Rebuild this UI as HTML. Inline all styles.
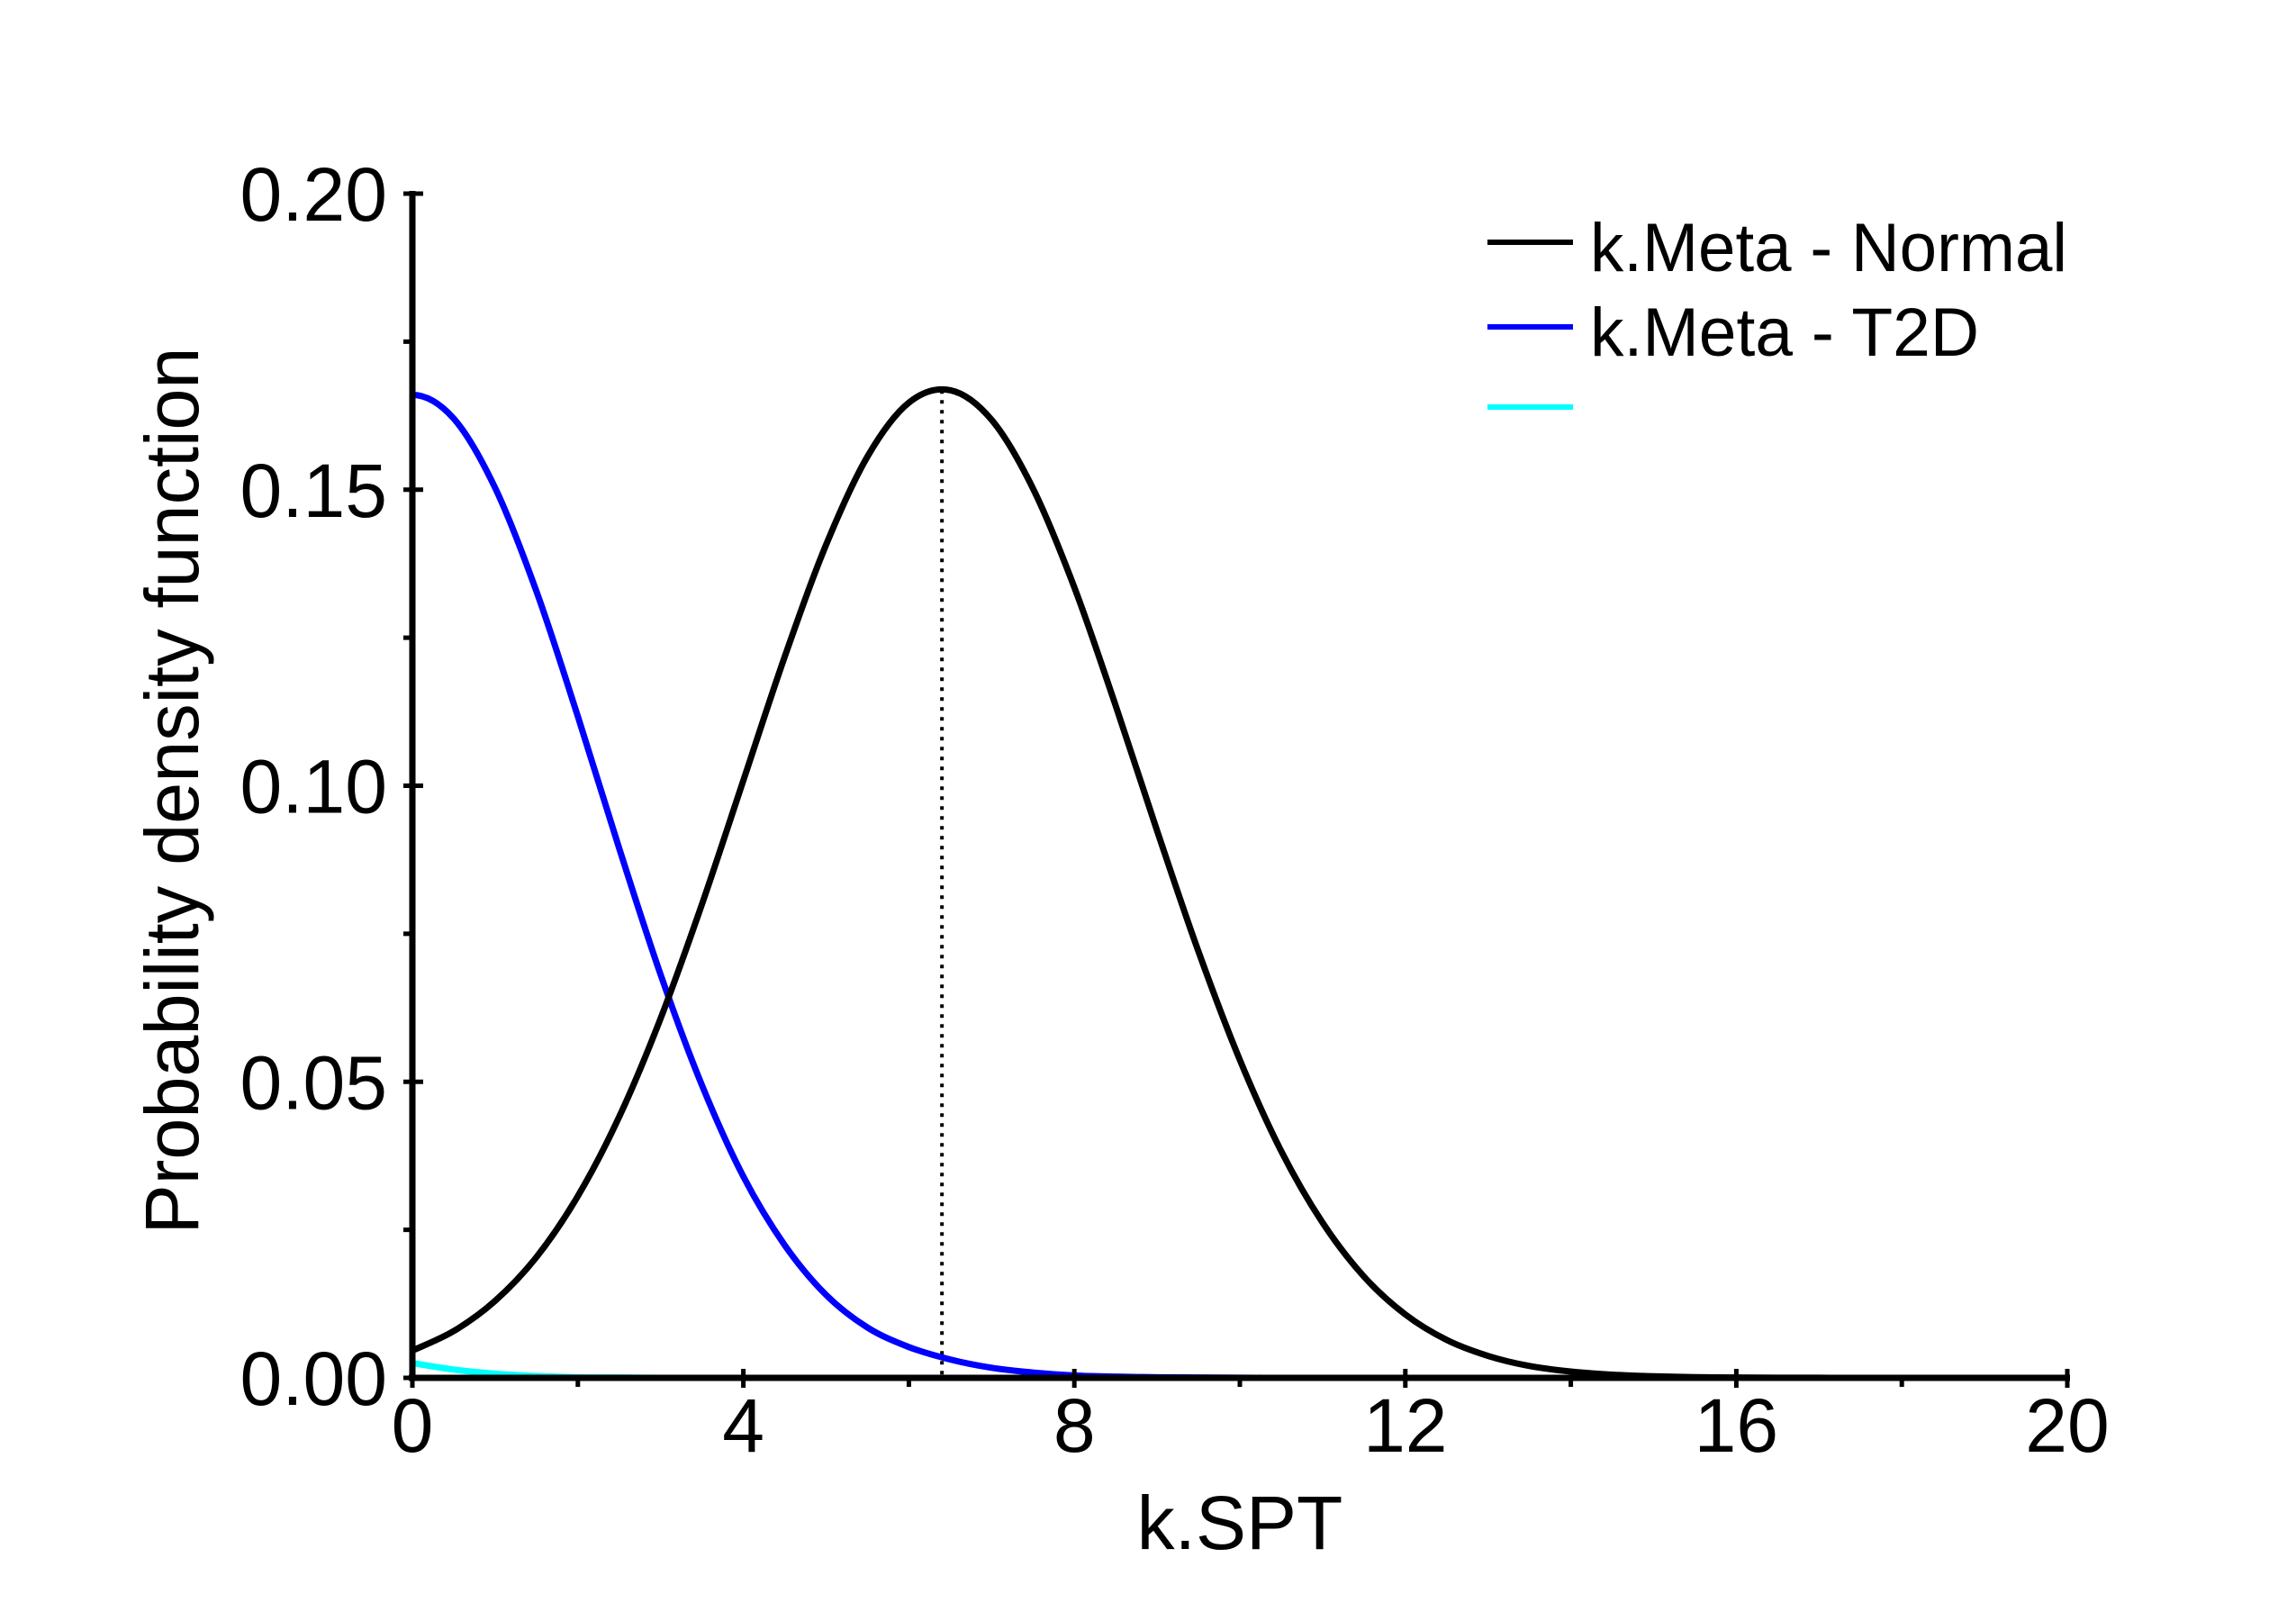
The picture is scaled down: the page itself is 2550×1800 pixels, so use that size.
<!DOCTYPE html>
<html><head><meta charset="utf-8"><style>
html,body{margin:0;padding:0;background:#fff;}
svg{display:block;font-family:"Liberation Sans",Arial,sans-serif;}
</style></head><body>
<svg id="chart" width="2550" height="1800" viewBox="0 0 2550 1800" xmlns="http://www.w3.org/2000/svg">
<rect width="2550" height="1800" fill="#fff"/>
<g id="series"></g>
<g id="axes"></g>
<text x="1377" y="1720" font-size="84" text-anchor="middle">k.SPT</text>
<text transform="translate(220,878) rotate(-90)" font-size="84" text-anchor="middle" textLength="985" lengthAdjust="spacingAndGlyphs">Probability density function</text>
<g>
<line x1="1652" y1="269" x2="1747" y2="269" stroke="#000" stroke-width="6"/>
<text x="1766" y="301" font-size="76" textLength="530" lengthAdjust="spacingAndGlyphs">k.Meta - Normal</text>
<line x1="1652" y1="363" x2="1747" y2="363" stroke="#0000ff" stroke-width="6"/>
<text x="1766" y="395" font-size="76" textLength="432" lengthAdjust="spacingAndGlyphs">k.Meta - T2D</text>
<line x1="1652" y1="452" x2="1747" y2="452" stroke="#00ffff" stroke-width="6"/>
</g>
</svg>
<script>
const xValues = [0,0.5,1,1.5,2,2.5,3,3.5,4,4.5,5,5.5,6,6.5,7,7.5,8,8.5,9,9.5,10,10.5,11,11.5,12,12.5,13,13.5,14,14.5,15,15.5,16,16.5,17,17.5,18,18.5,19,19.5,20];
const normalValues = [0.0046,0.0079,0.0130,0.0204,0.0307,0.0441,0.0607,0.0800,0.1009,0.1218,0.1407,0.1556,0.1647,0.1668,0.1618,0.1502,0.1335,0.1135,0.0924,0.0720,0.0537,0.0383,0.0262,0.0171,0.0107,0.0064,0.0037,0.0020,0.00106,0.00053,0.00026,0.00012,0.00005,0.00002,0.00001,0,0,0,0,0,0];
const t2dValues = [0.166,0.1620,0.1503,0.1328,0.1117,0.0894,0.0681,0.0494,0.0340,0.0224,0.0140,0.0085,0.0052,0.0031,0.0017,0.0009,0.0004,0.0002,0.0001,0.00005,0.00002,0,0,0,0,0,0,0,0,0,0,0,0,0,0,0,0,0,0,0,0];
const cyanValues = [0.0025,0.0014,0.0007,0.0003,0.0001,0.00005,0,0,0,0,0,0,0,0,0,0,0,0,0,0,0,0,0,0,0,0,0,0,0,0,0,0,0,0,0,0,0,0,0,0,0];
const xTicks = [0,4,8,12,16,20];
const xTickLabels = ["0","4","8","12","16","20"];
const xMinorTicks = [2,6,10,14,18];
const yTicks = [0,0.05,0.10,0.15,0.20];
const yTickLabels = ["0.00","0.05","0.10","0.15","0.20"];
const yMinorTicks = [0.025,0.075,0.125,0.175];
const peakX = 6.4;
const peakY = 0.1668;

const NS = "http://www.w3.org/2000/svg";
const X0 = 458, X1 = 2296, Y0 = 1530, Y1 = 215;
function sx(v){ return X0 + (v - 0) / (20 - 0) * (X1 - X0); }
function sy(v){ return Y0 - (v - 0) / (0.2 - 0) * (Y0 - Y1); }
function mk(tag, attrs, parent){
  const e = document.createElementNS(NS, tag);
  for (const k in attrs) e.setAttribute(k, attrs[k]);
  parent.appendChild(e);
  return e;
}
function smoothPath(xs, ys, flatStart){
  const p = xs.map((x,i)=>[sx(x), sy(ys[i])]);
  let d = "M" + p[0][0].toFixed(2) + "," + p[0][1].toFixed(2);
  for (let i=0;i<p.length-1;i++){
    let p0 = p[i-1]||p[i];
    if (i===0 && flatStart) p0 = [2*p[0][0]-p[1][0], p[1][1]];
    const p1=p[i], p2=p[i+1], p3=p[i+2]||p[i+1];
    const c1x = p1[0]+(p2[0]-p0[0])/6, c1y = p1[1]+(p2[1]-p0[1])/6;
    const c2x = p2[0]-(p3[0]-p1[0])/6, c2y = p2[1]-(p3[1]-p1[1])/6;
    d += " C"+c1x.toFixed(2)+","+Math.min(Y0,c1y).toFixed(2)+" "+c2x.toFixed(2)+","+Math.min(Y0,c2y).toFixed(2)+" "+p2[0].toFixed(2)+","+p2[1].toFixed(2);
  }
  return d;
}
const series = document.getElementById("series");
const axes = document.getElementById("axes");

const dot = mk("line", {x1:sx(peakX), y1:sy(peakY), x2:sx(peakX), y2:Y0, stroke:"#000", "stroke-width":4, "stroke-dasharray":"4 7"}, series);



const cy = mk("path", {d:smoothPath(xValues, cyanValues, false), fill:"none", stroke:"#00ffff", "stroke-width":7}, series);


const bl = mk("path", {d:smoothPath(xValues, t2dValues, true), fill:"none", stroke:"#0000ff", "stroke-width":7}, series);


const nm = mk("path", {d:smoothPath(xValues, normalValues, false), fill:"none", stroke:"#000", "stroke-width":7}, series);



const ya = mk("line", {x1:X0, y1:Y1-3, x2:X0, y2:Y0+3, stroke:"#000", "stroke-width":7}, axes);


const xa = mk("line", {x1:X0-4, y1:Y0, x2:X1+3, y2:Y0, stroke:"#000", "stroke-width":7}, axes);



xTicks.forEach((v,i)=>{
  const t = mk("line", {x1:sx(v), y1:Y0-10, x2:sx(v), y2:Y0+11, stroke:"#000", "stroke-width":5}, axes);
  
  
  const l = mk("text", {x:sx(v), y:1612, "font-size":84, "text-anchor":"middle"}, axes);
  l.textContent = xTickLabels[i];
  
  
});
xMinorTicks.forEach(v=>{
  const t = mk("line", {x1:sx(v), y1:Y0, x2:sx(v), y2:Y0+10, stroke:"#000", "stroke-width":5}, axes);
  
  
});
yTicks.forEach((v,i)=>{
  const t = mk("line", {x1:X0-10, y1:sy(v), x2:X0+12, y2:sy(v), stroke:"#000", "stroke-width":5}, axes);
  
  
  const l = mk("text", {x:430, y:sy(v)+30, "font-size":84, "text-anchor":"end"}, axes);
  l.textContent = yTickLabels[i];
  
  
});
yMinorTicks.forEach(v=>{
  const t = mk("line", {x1:X0-10, y1:sy(v), x2:X0, y2:sy(v), stroke:"#000", "stroke-width":5}, axes);
  
  
});
</script>
</body></html>
